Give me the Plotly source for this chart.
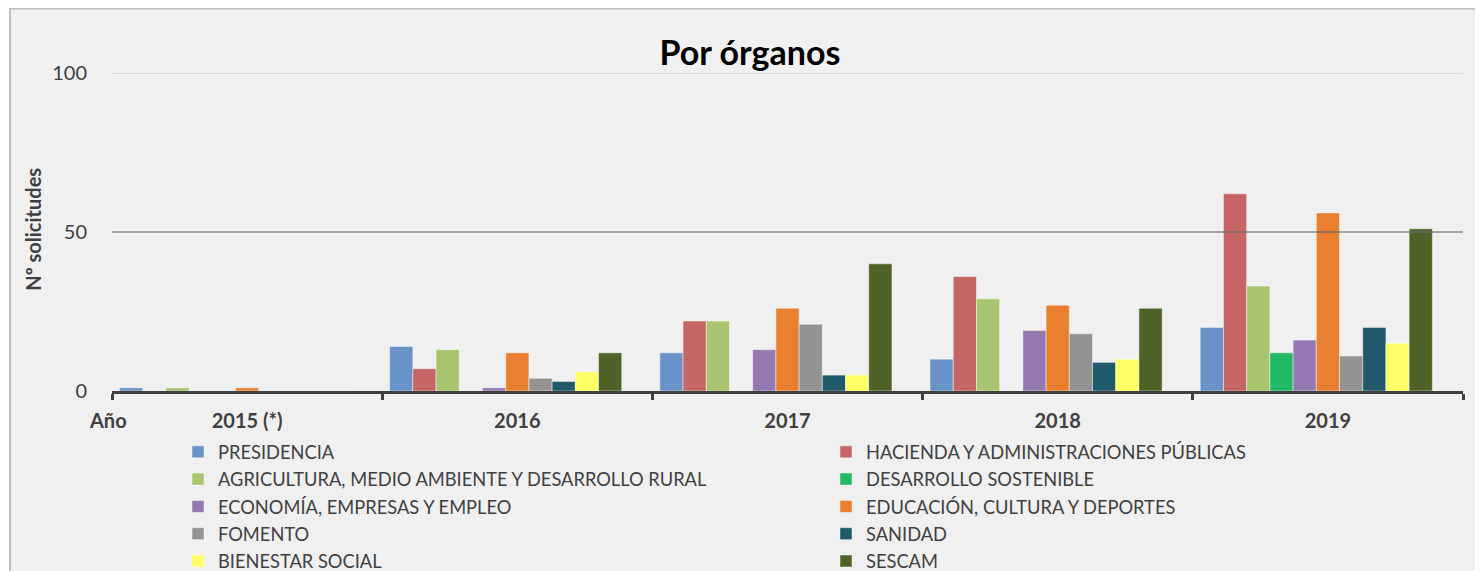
import plotly.graph_objects as go

years = ["2015 (*)", "2016", "2017", "2018", "2019"]

series_names = [
    "PRESIDENCIA",
    "HACIENDA Y ADMINISTRACIONES PÚBLICAS",
    "AGRICULTURA, MEDIO AMBIENTE Y DESARROLLO RURAL",
    "DESARROLLO SOSTENIBLE",
    "ECONOMÍA, EMPRESAS Y EMPLEO",
    "EDUCACIÓN, CULTURA Y DEPORTES",
    "FOMENTO",
    "SANIDAD",
    "BIENESTAR SOCIAL",
    "SESCAM",
]

presidencia = [1, 14, 12, 10, 20]
hacienda = [0, 7, 22, 36, 62]
agricultura = [1, 13, 22, 29, 33]
desarrollo_sostenible = [0, 0, 0, 0, 12]
economia = [0, 1, 13, 19, 16]
educacion = [1, 12, 26, 27, 56]
fomento = [0, 4, 21, 18, 11]
sanidad = [0, 3, 5, 9, 20]
bienestar = [0, 6, 5, 10, 15]
sescam = [0, 12, 40, 26, 51]

series_values = [presidencia, hacienda, agricultura, desarrollo_sostenible, economia,
                 educacion, fomento, sanidad, bienestar, sescam]

colors = ["#6992c8", "#c66565", "#a8c46e", "#22b864", "#9479b0",
          "#e8802f", "#939393", "#215a6a", "#ffff66", "#4f6228"]

# page offset (body margin) and geometry in reference-window pixels
OFF = 8
W, H = 1483 - OFF, 571 - OFF
L, R = 112 - OFF, 1463 - OFF
TOP, BOT = 73 - OFF, 391.5 - OFF
pw, ph = R - L, BOT - TOP

def px(x):
    return (x - OFF - L) / pw

def py(y):
    return (BOT - (y - OFF)) / ph

fig = go.Figure()
for i, (name, vals, col) in enumerate(zip(series_names, series_values, colors)):
    fig.add_trace(go.Bar(
        x=years, y=vals, name=name,
        marker=dict(color=col, line=dict(color="rgba(255,255,255,0.45)", width=1)),
        legend="legend" if i % 2 == 0 else "legend2",
        legendgroup=name,
    ))
# empty 11th slot (as in the original chart's layout)
fig.add_trace(go.Bar(x=years, y=[0] * len(years), showlegend=False,
                     marker=dict(color="rgba(0,0,0,0)", line=dict(width=0)),
                     hoverinfo="skip"))

font_main = "Lato"
txt = "#404040"
leg_font = 18.3

shapes = [
    # chart frame
    dict(type="rect", xref="paper", yref="paper", x0=px(10), x1=px(1500), y0=py(620), y1=py(8.5),
         fillcolor="#f0f0f0", line=dict(color="#bdbdbd", width=2), layer="below"),
    # gridlines
    dict(type="line", xref="paper", yref="y", x0=0, x1=1, y0=100, y1=100,
         line=dict(color="#d9d9d9", width=2), layer="below"),
    dict(type="line", xref="paper", yref="y", x0=0, x1=1, y0=50, y1=50,
         line=dict(color="rgba(110,110,110,0.6)", width=2), layer="above"),
]

fig.update_layout(
    width=W, height=H,
    margin=dict(l=L, r=W - R, t=TOP, b=H - BOT, autoexpand=False),
    paper_bgcolor="white",
    plot_bgcolor="rgba(0,0,0,0)",
    barmode="group",
    bargap=0.055,
    bargroupgap=0,
    font=dict(family=font_main, color=txt),
    title=dict(text="<b>Por órganos</b>", x=(750 - OFF) / W, xanchor="center",
               y=1 - (53 - OFF) / H, yanchor="middle",
               font=dict(family=font_main, size=34, color="black")),
    shapes=shapes,
    showlegend=True,
    legend=dict(x=px(178), y=py(434), xanchor="left", yanchor="top",
                bgcolor="rgba(0,0,0,0)", font=dict(size=leg_font, color=txt),
                tracegroupgap=0.5, orientation="v"),
    legend2=dict(x=px(826), y=py(434), xanchor="left", yanchor="top",
                 bgcolor="rgba(0,0,0,0)", font=dict(size=leg_font, color=txt),
                 tracegroupgap=0.5, orientation="v"),
    annotations=[
        dict(text="<b>Año</b>", xref="paper", yref="paper", x=px(108), y=py(421),
             xanchor="center", yanchor="middle", showarrow=False,
             font=dict(size=20, color=txt)),
        dict(text="<b>Nº solicitudes</b>", xref="paper", yref="paper", x=px(33), y=py(230),
             xanchor="center", yanchor="middle", showarrow=False, textangle=-90,
             font=dict(size=20, color=txt)),
    ],
)

fig.update_xaxes(
    type="category", categoryorder="array", categoryarray=years,
    showline=True, linecolor=txt, linewidth=3,
    ticks="outside", tickson="boundaries", ticklen=6, tickwidth=3, tickcolor=txt,
    ticklabelstandoff=10,
    tickfont=dict(size=20, color=txt, family=font_main),
    tickprefix="<b>", ticksuffix="</b>",
    showgrid=False, zeroline=False,
)
fig.update_yaxes(
    range=[0, 100], tickvals=[0, 50, 100], showgrid=False, zeroline=False,
    showline=False, ticks="", ticklabelstandoff=24,
    tickfont=dict(size=20, color=txt, family=font_main),
)

fig.write_html("out.html")
